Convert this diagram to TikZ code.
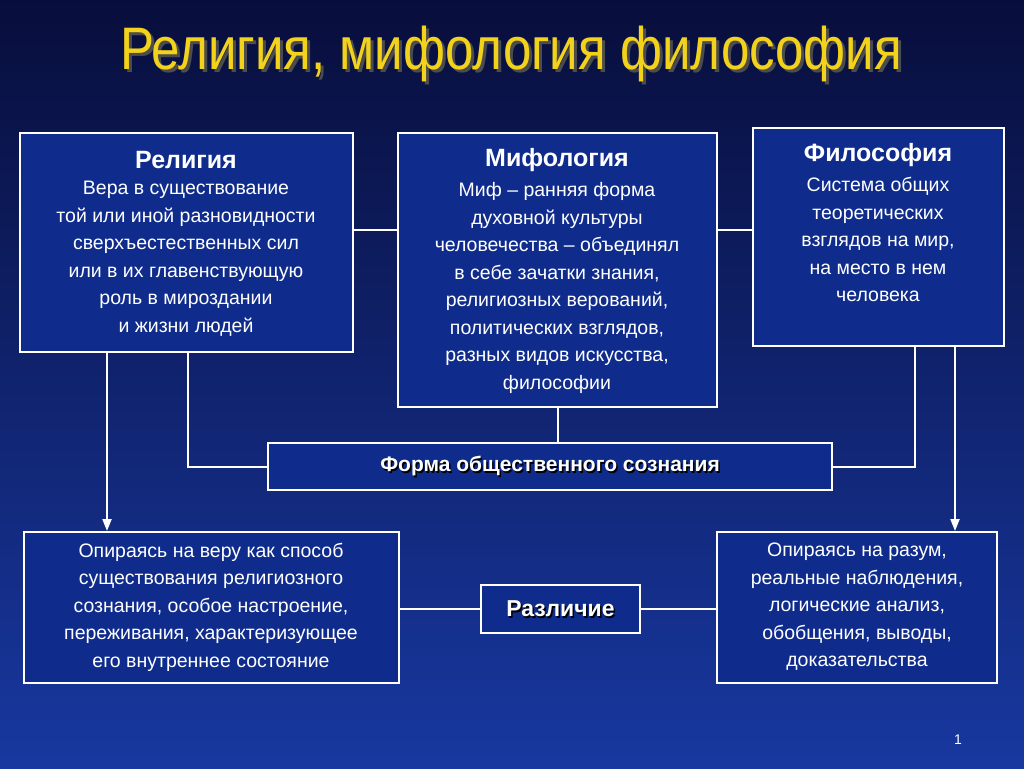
\documentclass[tikz,border=0pt]{standalone}
\usepackage{fontspec}
\setmainfont{Liberation Sans}
\usetikzlibrary{arrows.meta}
\begin{document}
\begin{tikzpicture}[x=1pt,y=-1pt,
  box/.style={draw=white,line width=2pt,fill=boxblue,text=white,align=center,inner sep=0pt},
  body/.style={font=\fontsize{19.5}{27.5}\selectfont},
  ln/.style={draw=white,line width=2pt},
  arr/.style={ln,-{Triangle[length=12pt,width=9pt]}}]
\definecolor{boxblue}{HTML}{0F2C8C}
\definecolor{ttl}{HTML}{F2D21A}
\shade[top color={rgb,255:red,8;green,14;blue,60},bottom color={rgb,255:red,24;green,56;blue,160}] (0,0) rectangle (1024,768);
\useasboundingbox (0,0) rectangle (1024,768);
% title
\node[text=black!70,font=\fontsize{60}{64}\selectfont] at (514,57) {\scalebox{0.85}[1]{Религия, мифология философия}};
\node (title) [text=ttl,font=\fontsize{60}{64}\selectfont] at (511,54) {\scalebox{0.85}[1]{Религия, мифология философия}};
% boxes
\node (rel) [box,minimum width=333pt,minimum height=219pt] at (186.5,242.5) {};
\node (myth) [box,minimum width=319pt,minimum height=274pt] at (557.5,270) {};
\node (phil) [box,minimum width=251pt,minimum height=218pt] at (878.5,237) {};
\node (forma) [box,minimum width=564pt,minimum height=47pt] at (550,466.5) {};
\node (lb) [box,minimum width=375pt,minimum height=151pt] at (211.5,607.5) {};
\node (rb) [box,minimum width=280pt,minimum height=151pt] at (857,607.5) {};
\node (diff) [box,minimum width=159pt,minimum height=48pt] at (560.5,609) {};
% texts
\node (relh) [text=white,font=\fontsize{25}{30}\selectfont\bfseries] at (186,160) {Религия};
\node (relt) [text=white,align=center,body,anchor=north] at (186,178) {Вера в существование\\той или иной разновидности\\сверхъестественных сил\\или в их главенствующую\\роль в мироздании\\и жизни людей};
\node (mythh) [text=white,font=\fontsize{25}{30}\selectfont\bfseries] at (557,160) {Мифология};
\node (mytht) [text=white,align=center,body,anchor=north] at (557,179) {Миф – ранняя форма\\духовной культуры\\человечества – объединял\\в себе зачатки знания,\\религиозных верований,\\политических взглядов,\\разных видов искусства,\\философии};
\node (philh) [text=white,font=\fontsize{25}{30}\selectfont\bfseries] at (878,155) {Философия};
\node (philt) [text=white,align=center,body,anchor=north] at (878,174) {Система общих\\теоретических\\взглядов на мир,\\на место в нем\\человека};
\node[text=black,font=\fontsize{21}{25}\selectfont\bfseries] at (551.5,467.5) {Форма общественного сознания};
\node (format) [text=white,font=\fontsize{21}{25}\selectfont\bfseries] at (550,466) {Форма общественного сознания};
\node (lbt) [text=white,align=center,body] at (211,607) {Опираясь на веру как способ\\существования религиозного\\сознания, особое настроение,\\переживания, характеризующее\\его внутреннее состояние};
\node (rbt) [text=white,align=center,body] at (857,607) {Опираясь на разум,\\реальные наблюдения,\\логические анализ,\\обобщения, выводы,\\доказательства};
\node[text=black,font=\fontsize{23}{27}\selectfont\bfseries] at (562,610.5) {Различие};
\node (difft) [text=white,font=\fontsize{23}{27}\selectfont\bfseries] at (560.5,609) {Различие};
\node (pg) [text=white,font=\fontsize{14}{16}\selectfont] at (958,740) {1};
% connectors
\draw[ln] (rel.east|-0,230) -- (myth.west|-0,230);
\draw[ln] (myth.east|-0,230) -- (phil.west|-0,230);
\draw[ln] (558,407) -- (forma.north-|558,0);
\draw[ln] (rel.south-|188,0) |- (forma.west);
\draw[ln] (phil.south-|915,0) |- (forma.east);
\draw[arr] (rel.south-|107,0) -- (lb.north-|107,0);
\draw[arr] (phil.south-|955,0) -- (rb.north-|955,0);
\draw[ln] (lb.east|-diff) -- (diff.west);
\draw[ln] (diff.east) -- (rb.west|-diff);
\end{tikzpicture}
\end{document}
